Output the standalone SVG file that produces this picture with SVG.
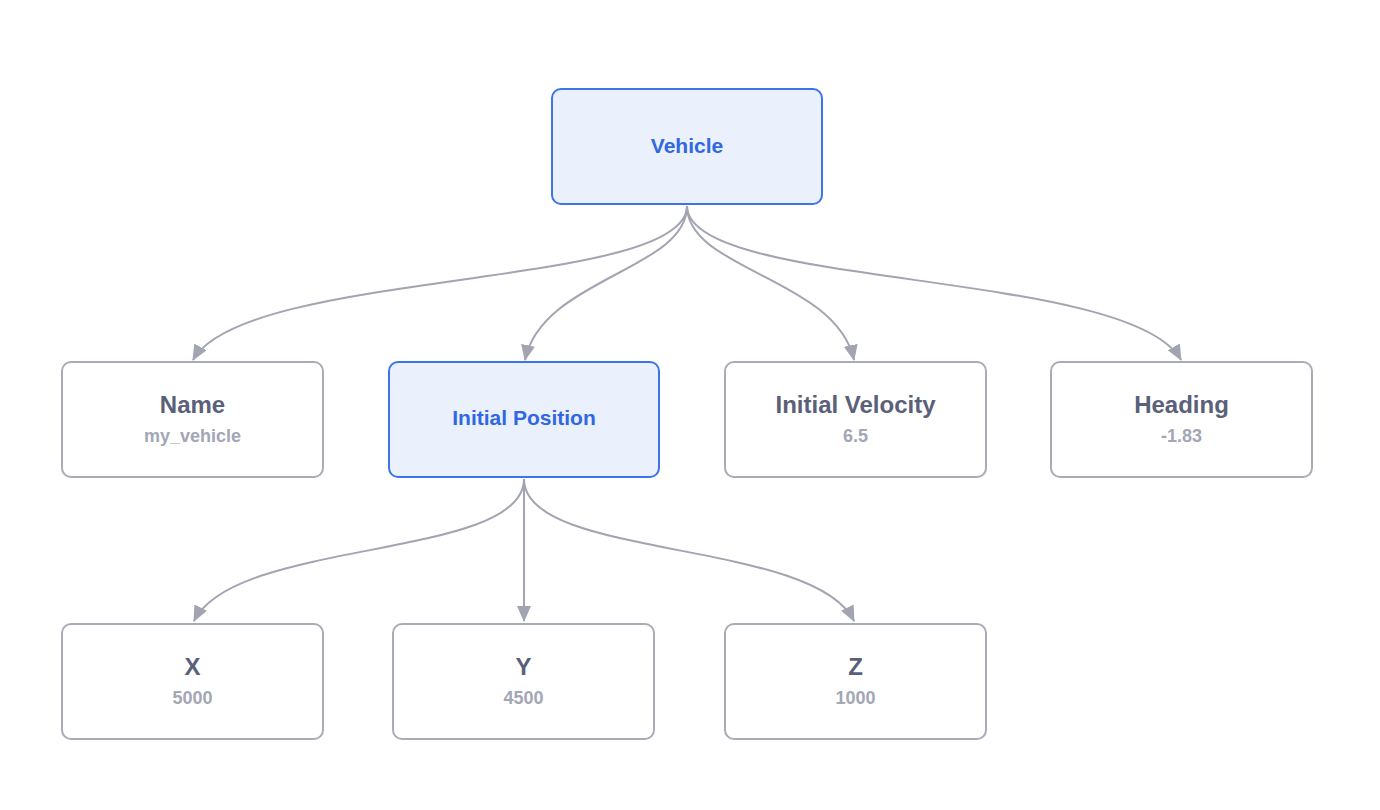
<svg xmlns="http://www.w3.org/2000/svg" width="1380" height="810" viewBox="0 0 1380 810">
<defs>
<marker id="arrow" viewBox="0 0 16 14" refX="15" refY="7" markerWidth="16" markerHeight="14" markerUnits="userSpaceOnUse" orient="auto">
<path d="M0,0 L16,7 L0,14 Z" fill="#a2a4b1"/>
</marker>
<style>
.box{fill:#ffffff;stroke:#a9abb9;stroke-width:2}
.hl{fill:#ebf0fd;stroke:#3d74ea;stroke-width:2}
.t{font-family:"Liberation Sans",Arial,sans-serif;font-weight:bold;font-size:24px;fill:#5a6079;text-anchor:middle}
.s{font-family:"Liberation Sans",Arial,sans-serif;font-weight:bold;font-size:18px;fill:#a3a6b5;text-anchor:middle}
.b{font-family:"Liberation Sans",Arial,sans-serif;font-weight:bold;font-size:21px;fill:#3068e2;text-anchor:middle}
.e{fill:none;stroke:#a2a4b1;stroke-width:2;marker-end:url(#arrow)}
</style>
</defs>
<rect width="1380" height="810" fill="#ffffff"/>
<g id="connectors">
<path class="e" d="M687,206 C687,290 245,268 193,360"/>
<path class="e" d="M687,206 C687,270 542,278 525,360"/>
<path class="e" d="M687,206 C687,270 836,278 854,360"/>
<path class="e" d="M687,206 C687,290 1130,268 1181,360"/>
<path class="e" d="M524,479 C524,560 235,538 194,621"/>
<path class="e" d="M524,479 L524,621"/>
<path class="e" d="M524,479 C524,560 813,538 854,621"/>
</g>
<g id="vehicle">
<rect class="hl" x="552" y="89" width="270" height="115" rx="9"/>
<text class="b" x="687" y="153">Vehicle</text>
</g>
<g id="name">
<rect class="box" x="62" y="362" width="261" height="115" rx="9"/>
<text class="t" x="192.5" y="413">Name</text>
<text class="s" x="192.5" y="442">my_vehicle</text>
</g>
<g id="initial-position">
<rect class="hl" x="389" y="362" width="270" height="115" rx="9"/>
<text class="b" x="524" y="425">Initial Position</text>
</g>
<g id="initial-velocity">
<rect class="box" x="725" y="362" width="261" height="115" rx="9"/>
<text class="t" x="855.5" y="413">Initial Velocity</text>
<text class="s" x="855.5" y="442">6.5</text>
</g>
<g id="heading">
<rect class="box" x="1051" y="362" width="261" height="115" rx="9"/>
<text class="t" x="1181.5" y="413">Heading</text>
<text class="s" x="1181.5" y="442">-1.83</text>
</g>
<g id="x">
<rect class="box" x="62" y="624" width="261" height="115" rx="9"/>
<text class="t" x="192.5" y="675">X</text>
<text class="s" x="192.5" y="704">5000</text>
</g>
<g id="y">
<rect class="box" x="393" y="624" width="261" height="115" rx="9"/>
<text class="t" x="523.5" y="675">Y</text>
<text class="s" x="523.5" y="704">4500</text>
</g>
<g id="z">
<rect class="box" x="725" y="624" width="261" height="115" rx="9"/>
<text class="t" x="855.5" y="675">Z</text>
<text class="s" x="855.5" y="704">1000</text>
</g>
</svg>
